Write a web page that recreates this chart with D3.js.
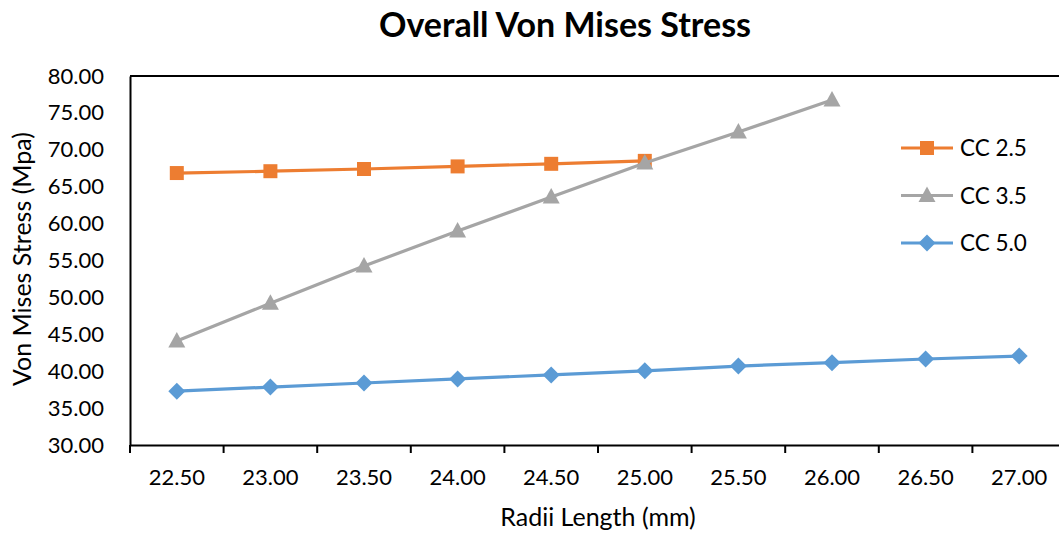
<!DOCTYPE html>
<html lang="en">
<head>
    <meta charset="UTF-8">
    <title>Overall Von Mises Stress</title>
    <script src="https://cdn.jsdelivr.net/npm/d3@7"></script>
    <style>
        body { margin: 0; background: #fff; overflow: hidden; }
        svg { display: block; font-family: Lato, "Open Sans", sans-serif; }
    </style>
</head>
<body>
<div id="chart"></div>
<script>
    // data
    var radii = ["22.50", "23.00", "23.50", "24.00", "24.50", "25.00", "25.50", "26.00", "26.50", "27.00"];
    var cc25 = [66.85, 67.1, 67.4, 67.75, 68.1, 68.5];
    var cc35 = [44.1, 49.2, 54.25, 59.0, 63.6, 68.2, 72.4, 76.75];
    var cc50 = [37.3, 37.85, 38.4, 38.95, 39.5, 40.05, 40.7, 41.15, 41.65, 42.05];
    var yTicks = [30, 35, 40, 45, 50, 55, 60, 65, 70, 75, 80];

    var series = [
        {name: "CC 2.5", values: cc25, color: "#ED7D31", marker: "square"},
        {name: "CC 3.5", values: cc35, color: "#A5A5A5", marker: "triangle"},
        {name: "CC 5.0", values: cc50, color: "#5B9BD5", marker: "diamond"}
    ];

    var w = 1059, h = 533;
    var plotL = 130, plotR = 1066, plotT = 76, plotB = 445;

    var svg = d3.select("#chart").append("svg")
        .attr("width", w)
        .attr("height", h);

    var x = d3.scaleBand()
        .domain(radii)
        .range([plotL, plotR]);

    var y = d3.scaleLinear()
        .domain([30, 80])
        .range([plotB, plotT]);

    // plot frame (top)
    svg.append("line")
        .attr("x1", plotL).attr("x2", plotR)
        .attr("y1", plotT).attr("y2", plotT)
        .attr("stroke", "#000").attr("stroke-width", 2);

    // y axis
    var yAxis = svg.append("g")
        .attr("transform", "translate(" + plotL + ",0)")
        .call(d3.axisLeft(y).tickValues(yTicks).tickSize(0).tickPadding(26)
            .tickFormat(function(d) { return d3.format(".2f")(d); }));
    yAxis.select(".domain").attr("stroke", "#000").attr("stroke-width", 2);
    yAxis.selectAll("text")
        .attr("font-size", "22px")
        .attr("font-family", "Lato, 'Open Sans', sans-serif")
        .attr("fill", "#000");

    // x axis, ticks between categories
    var xAxis = svg.append("g")
        .attr("transform", "translate(0," + plotB + ")")
        .call(d3.axisBottom(x).tickSize(0).tickPadding(24));
    xAxis.select(".domain").attr("stroke", "#000").attr("stroke-width", 2);
    xAxis.selectAll("text")
        .attr("font-size", "22px")
        .attr("font-family", "Lato, 'Open Sans', sans-serif")
        .attr("fill", "#000");
    xAxis.selectAll(".cat-tick")
        .data(radii)
        .enter()
        .append("line")
        .attr("x1", function(d) { return x(d); })
        .attr("x2", function(d) { return x(d); })
        .attr("y1", 0)
        .attr("y2", 8)
        .attr("stroke", "#000")
        .attr("stroke-width", 2);

    // excel-like markers
    function markerPath(type) {
        if (type == "square") return "M-7,-7H7V7H-7Z";
        if (type == "triangle") return "M0,-9L8.5,6.5H-8.5Z";
        return "M0,-8.5L8.5,0L0,8.5L-8.5,0Z";
    }

    var line = d3.line()
        .x(function(d, i) { return x(radii[i]) + x.bandwidth() / 2; })
        .y(function(d) { return y(d); });

    series.forEach(function(s) {
        svg.append("path")
            .datum(s.values)
            .attr("d", line)
            .attr("fill", "none")
            .attr("stroke", s.color)
            .attr("stroke-width", 3.2);

        svg.selectAll(".m-" + s.marker)
            .data(s.values)
            .enter()
            .append("path")
            .attr("class", "m-" + s.marker)
            .attr("d", markerPath(s.marker))
            .attr("transform", function(d, i) {
                return "translate(" + (x(radii[i]) + x.bandwidth() / 2) + "," + y(d) + ")";
            })
            .attr("fill", s.color);
    });

    // legend
    var legend = svg.selectAll(".legend")
        .data(series)
        .enter()
        .append("g")
        .attr("class", "legend")
        .attr("transform", function(d, i) { return "translate(901," + (148 + i * 47.5) + ")"; });
    legend.append("line")
        .attr("x1", 0).attr("x2", 52)
        .attr("stroke", function(d) { return d.color; })
        .attr("stroke-width", 3.2);
    legend.append("path")
        .attr("d", function(d) { return markerPath(d.marker); })
        .attr("transform", "translate(26,0)")
        .attr("fill", function(d) { return d.color; });
    legend.append("text")
        .attr("x", 59)
        .attr("dy", "0.36em")
        .attr("font-size", "22.5px")
        .text(function(d) { return d.name; });

    // titles
    svg.append("text")
        .attr("x", 565)
        .attr("y", 37)
        .attr("text-anchor", "middle")
        .attr("font-size", "34px")
        .attr("font-weight", "bold")
        .text("Overall Von Mises Stress");

    svg.append("text")
        .attr("x", 598)
        .attr("y", 526)
        .attr("text-anchor", "middle")
        .attr("font-size", "25px")
        .text("Radii Length (mm)");

    svg.append("text")
        .attr("transform", "rotate(-90)")
        .attr("x", -259)
        .attr("y", 31)
        .attr("text-anchor", "middle")
        .attr("font-size", "25px")
        .text("Von Mises Stress (Mpa)");
</script>
</body>
</html>
